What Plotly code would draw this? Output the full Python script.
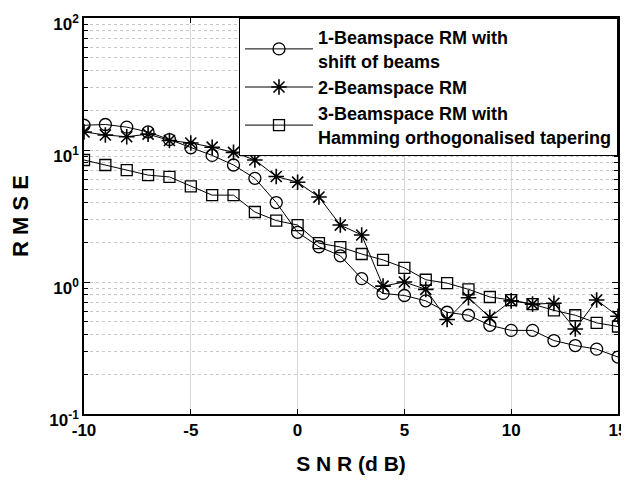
import plotly.graph_objects as go

snr = list(range(-10, 16))

rmse_shift = [15.4, 15.6, 14.9, 13.7, 12.0, 10.4, 9.1, 7.7, 6.1, 4.0, 2.38, 1.85, 1.58, 1.06, 0.82, 0.79,
              0.72, 0.59, 0.56, 0.47, 0.43, 0.43, 0.36, 0.33, 0.31, 0.27]
rmse_beam = [13.7, 13.0, 12.6, 13.2, 11.8, 11.3, 10.5, 9.6, 8.4, 6.3, 5.7, 4.4, 2.7, 2.27, 0.93, 1.0,
             0.88, 0.52, 0.76, 0.54, 0.72, 0.68, 0.69, 0.44, 0.73, 0.55]
rmse_hamm = [8.4, 7.7, 7.05, 6.45, 6.25, 5.3, 4.55, 4.55, 3.39, 2.92, 2.7, 1.97, 1.84, 1.63, 1.47, 1.28,
             1.04, 0.98, 0.88, 0.77, 0.73, 0.68, 0.61, 0.56, 0.49, 0.46]

names = ["1-Beamspace RM with<br>shift of beams", "2-Beamspace RM",
         "3-Beamspace RM with<br>Hamming orthogonalised tapering"]

FONT = "Liberation Sans, Arial, sans-serif"

fig = go.Figure()
fig.add_trace(go.Scatter(x=snr, y=rmse_shift, name=names[0], mode="lines+markers",
                         line=dict(color="black", width=1),
                         marker=dict(symbol="circle-open", size=12, color="black", line=dict(width=1.3))))
fig.add_trace(go.Scatter(x=snr, y=rmse_beam, name=names[1], mode="lines+markers",
                         line=dict(color="black", width=1),
                         marker=dict(symbol="asterisk-open", size=13, color="black", line=dict(width=1.6))))
fig.add_trace(go.Scatter(x=snr, y=rmse_hamm, name=names[2], mode="lines+markers",
                         line=dict(color="black", width=1),
                         marker=dict(symbol="square-open", size=11, color="black", line=dict(width=1.3))))

minor_vals = [m * 10 ** e for e in range(-1, 2) for m in range(2, 10)]

# The page body has an 8px default margin, so the figure is sized to fit the window.
fig.update_layout(
    width=621, height=467,
    margin=dict(l=76, r=11, t=10, b=61),
    paper_bgcolor="white", plot_bgcolor="white",
    font=dict(family=FONT, color="black", size=16, weight="bold"),
    showlegend=True,
    legend=dict(x=1, xanchor="right", y=1, yanchor="top",
                bgcolor="white", bordercolor="black", borderwidth=1,
                font=dict(family=FONT, size=18, color="black", weight="bold"),
                itemwidth=68, tracegroupgap=0),
    xaxis=dict(range=[-10, 15], tickmode="array", tickvals=[-10, -5, 0, 5, 10, 15],
               ticktext=["-10", "-5", "0", "5", "10", "15"],
               ticks="inside", ticklen=5, tickcolor="black", automargin=False,
               ticklabeloverflow="allow",
               showline=True, linecolor="black", linewidth=1.5, mirror="ticks",
               showgrid=True, gridcolor="#d8d8d8", gridwidth=1, zeroline=False,
               tickfont=dict(size=17, weight="bold"),
               title=dict(text="S N R (d B)", font=dict(size=21, weight="bold"), standoff=18)),
    yaxis=dict(type="log", range=[-1, 2], tickmode="array", tickvals=[0.1, 1, 10, 100],
               ticktext=["10<sup>-1</sup>", "10<sup>0</sup>", "10<sup>1</sup>", "10<sup>2</sup>"],
               ticks="inside", ticklen=6, tickcolor="black", automargin=False,
               ticklabeloverflow="allow", ticklabelshift=6,
               showline=True, linecolor="black", linewidth=1.5, mirror="ticks",
               showgrid=True, gridcolor="#c8c8c8", griddash="dot", gridwidth=1, zeroline=False,
               tickfont=dict(size=17, weight="bold"),
               minor=dict(tickmode="array", tickvals=minor_vals, ticks="inside", ticklen=4,
                          tickcolor="black", showgrid=True, gridcolor="#c8c8c8", griddash="dot"),
               title=dict(text="R M S E", font=dict(size=22, weight="bold"), standoff=18)),
)

fig.write_html("out.html")
